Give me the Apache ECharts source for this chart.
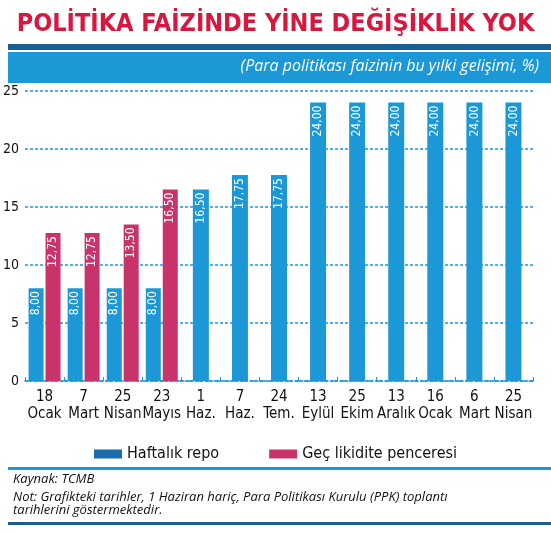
<!DOCTYPE html>
<html><head><meta charset="utf-8">
<script src="https://cdn.jsdelivr.net/npm/echarts@6/dist/echarts.min.js"></script>
<style>html,body{margin:0;padding:0;background:#fff}#c{width:551px;height:533px}</style>
</head><body><div id="c"></div>
<script>
const categories = ['18\nOcak','7\nMart','25\nNisan','23\nMayıs','1\nHaz.','7\nHaz.','24\nTem.','13\nEylül','25\nEkim','13\nAralık','16\nOcak','6\nMart','25\nNisan'];
const repo = [8.00, 8.00, 8.00, 8.00, 16.50, 17.75, 17.75, 24.00, 24.00, 24.00, 24.00, 24.00, 24.00];
const gec = [12.75, 12.75, 13.50, 16.50];
const yTicks = [0, 5, 10, 15, 20, 25];
const pairCount = gec.length;
const repoPaired = repo.map((v,i)=> i<pairCount ? v : null);
const repoSingle = repo.map((v,i)=> i<pairCount ? null : v);
const gecFull = categories.map((c,i)=> i<pairCount ? gec[i] : null);
const BLUE='#1b98d5', PINK='#c8336b', DARK='#1c5e8e';
const fmt = p => p.value==null ? '' : p.value.toFixed(2).replace('.',',');
const lbl = {show:true, position:'insideTop', rotate:90, align:'right', verticalAlign:'middle', distance:3,
  color:'#fff', fontFamily:'DejaVu Sans Condensed', fontSize:12, formatter:fmt};
const chart = echarts.init(document.getElementById('c'));
chart.setOption({
  animation:false,
  title:{text:'POLİTİKA FAİZİNDE YİNE DEĞİŞİKLİK YOK', left:'center', top:7,
    textStyle:{color:'#d8173f', fontFamily:'DejaVu Sans Condensed', fontWeight:'bold', fontSize:25}},
  graphic:[
    {type:'rect', shape:{x:8,y:44,width:543,height:6}, style:{fill:DARK}},
    {type:'rect', shape:{x:8,y:52,width:543,height:31}, style:{fill:BLUE}},
    {type:'text', right:12, top:58, style:{text:'(Para politikası faizinin bu yılki gelişimi, %)', fill:'#fff',
      font:'italic 16px "Open Sans"'}},
    {type:'rect', shape:{x:8,y:467,width:543,height:3}, style:{fill:BLUE}},
    {type:'text', left:13, top:473, style:{text:'Kaynak: TCMB', fill:'#111', font:'italic 13px "Open Sans"'}},
    {type:'text', left:13, top:491, style:{text:'Not: Grafikteki tarihler, 1 Haziran hariç, Para Politikası Kurulu (PPK) toplantı\ntarihlerini göstermektedir.', fill:'#111', font:'italic 13px "Open Sans"', lineHeight:13}},
    {type:'rect', shape:{x:8,y:522,width:543,height:3}, style:{fill:DARK}}
  ],
  legend:{top:441, left:'center', itemWidth:28, itemHeight:9, itemGap:50, icon:'rect',
    data:[{name:'Haftalık repo', itemStyle:{color:'#1a6cad'}},{name:'Geç likidite penceresi'}],
    textStyle:{fontFamily:'DejaVu Sans Condensed', fontSize:16, color:'#111'}},
  grid:{left:22, right:18, top:91, bottom:152},
  xAxis:[
    {type:'category', data:categories, axisLine:{lineStyle:{color:BLUE, type:'dashed', width:1.5}},
     axisTick:{show:true, interval:0, length:4, inside:true, lineStyle:{color:BLUE}},
     axisLabel:{interval:0, color:'#111', fontFamily:'DejaVu Sans Condensed', fontSize:15, lineHeight:17, margin:8}},
    {type:'category', data:categories, show:false}
  ],
  yAxis:{type:'value', min:yTicks[0], max:yTicks[yTicks.length-1], interval:5,
    axisLine:{show:false}, axisTick:{show:false},
    axisLabel:{color:'#111', fontFamily:'DejaVu Sans Condensed', fontSize:14, margin:6},
    splitLine:{lineStyle:{color:BLUE, type:[3,2], width:1.5}}},
  series:[
    {name:'Haftalık repo', type:'bar', data:repoPaired, barWidth:15, barGap:'13%', itemStyle:{color:BLUE}, label:lbl},
    {name:'Geç likidite penceresi', type:'bar', data:gecFull, barWidth:15, itemStyle:{color:PINK}, label:lbl},
    {name:'Haftalık repo', type:'bar', xAxisIndex:1, data:repoSingle, barWidth:16, itemStyle:{color:BLUE}, label:lbl}
  ]
});
</script></body></html>
